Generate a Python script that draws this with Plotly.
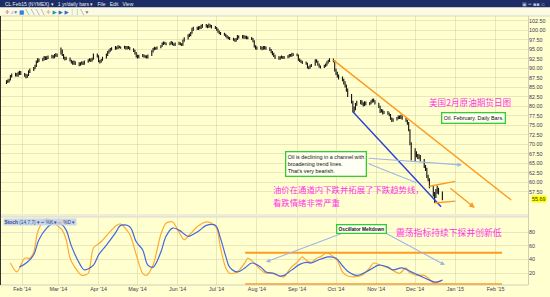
import plotly.graph_objects as go
import pandas as pd

# ---------------- data ----------------
dates = pd.bdate_range("2014-01-20", "2014-12-22")

close = [
    86.4, 86.7, 86.9, 88.0, 88.3,   88.5, 88.2, 88.7, 89.0, 88.6,
    88.2, 87.8, 88.1, 89.2, 89.6,   90.0, 90.6, 91.8, 92.3, 92.1,
    92.4, 92.9, 92.6, 92.8, 93.0,   93.2, 93.0, 93.4, 93.6, 93.3,
    95.0, 93.6, 92.8, 92.5, 92.7,   92.1, 91.6, 91.4, 91.8, 91.2,
    91.0, 91.3, 91.5, 91.2, 91.8,   92.1, 92.4, 92.0, 92.5, 93.6,
    93.4, 91.9, 91.7, 92.2, 92.8,   93.6, 94.3, 94.7, 95.0, 95.2,
    95.5, 95.4, 95.8, 95.6, 95.5,   95.7, 95.3, 95.6, 95.4, 95.2,
    94.6, 94.0, 93.2, 93.0, 93.3,   93.5, 93.1, 93.2, 92.9, 93.4,
    94.6, 95.1, 95.4, 95.2, 95.5,   95.8, 96.5, 96.8, 96.6, 96.4,
    96.6, 96.9, 96.4, 96.2, 96.5,   96.7, 96.4, 96.2, 97.3, 97.9,
    98.7, 98.9, 99.3, 100.3, 100.6, 100.5, 100.8, 100.7, 101.1, 101.3,
    101.2, 101.0, 101.4, 101.1, 100.9, 100.7, 100.2, 99.7, 99.3, 99.1,
    98.9, 98.5, 98.2, 98.0, 97.8,   97.6, 97.3, 97.7, 98.4, 98.2,
    98.5, 98.1, 98.3, 98.0, 98.1,   97.8, 97.2, 95.8, 95.4, 95.3,
    95.5, 95.2, 95.6, 95.3, 95.4,   94.9, 94.3, 93.8, 93.3, 92.9,
    92.6, 92.9, 93.1, 92.8, 93.0,   93.2, 93.5, 93.4, 93.8, 93.6,
    93.5, 92.3, 92.0, 91.7, 91.5,   91.3, 90.3, 90.1, 90.7, 90.9,
    92.1, 91.8, 91.0, 90.5, 90.4,   90.7, 91.0, 91.6, 92.0, 92.3,
    92.0, 89.5, 88.8, 88.0, 87.5,   87.0, 86.2, 85.5, 84.3, 83.0,
    81.2, 79.0, 79.5, 80.6, 81.0,   81.3, 80.8, 80.4, 81.0, 80.7,
    80.9, 81.3, 81.7, 81.4, 80.8,   79.9, 78.7, 78.9, 78.3, 78.5,
    78.1, 77.7, 76.8, 76.3, 76.6,   76.9, 77.3, 77.0, 77.4, 76.8,
    76.2, 75.6, 73.8, 70.2, 66.5,   67.8, 67.0, 66.6, 66.9, 65.9,
    64.2, 63.5, 61.6, 60.8, 58.9,   56.9, 56.2, 57.6, 58.1, 57.3,
    55.69,
]
open_ = [
    86.2, 86.5, 86.6, 87.0, 87.9,   88.2, 88.5, 88.1, 88.6, 89.1,
    88.5, 88.2, 87.9, 88.2, 89.1,   89.7, 90.1, 90.7, 91.7, 92.2,
    92.2, 92.3, 92.9, 92.5, 92.9,   93.0, 93.2, 92.9, 93.4, 93.7,
    93.9, 94.8, 93.5, 92.8, 92.5,   92.6, 92.0, 91.7, 91.3, 91.7,
    91.3, 91.0, 91.4, 91.5, 91.3,   91.8, 92.1, 92.3, 92.0, 92.6,
    93.5, 93.3, 91.9, 91.8, 92.3,   92.9, 93.6, 94.2, 94.6, 95.0,
    95.2, 95.5, 95.4, 95.8, 95.6,   95.5, 95.7, 95.3, 95.6, 95.4,
    95.1, 94.6, 94.0, 93.3, 93.0,   93.3, 93.4, 93.1, 93.2, 92.9,
    93.5, 94.5, 95.1, 95.4, 95.2,   95.5, 95.9, 96.5, 96.8, 96.6,
    96.4, 96.6, 96.9, 96.4, 96.2,   96.5, 96.7, 96.4, 96.3, 97.3,
    97.9, 98.6, 98.8, 99.4, 100.2,  100.6, 100.4, 100.9, 100.7, 101.0,
    101.3, 101.2, 101.0, 101.4, 101.1, 100.9, 100.7, 100.2, 99.7, 99.3,
    99.1, 98.9, 98.5, 98.2, 98.0,   97.8, 97.6, 97.3, 97.7, 98.4,
    98.2, 98.5, 98.1, 98.3, 98.0,   98.1, 97.8, 97.2, 95.8, 95.4,
    95.3, 95.5, 95.2, 95.6, 95.3,   95.4, 94.9, 94.3, 93.8, 93.3,
    92.9, 92.6, 92.9, 93.1, 92.8,   93.0, 93.2, 93.5, 93.4, 93.8,
    93.6, 93.5, 92.3, 92.0, 91.7,   91.5, 91.3, 90.3, 90.1, 90.7,
    90.9, 92.0, 91.8, 91.0, 90.5,   90.4, 90.7, 91.0, 91.6, 92.0,
    92.3, 92.0, 89.5, 88.8, 88.0,   87.5, 87.0, 86.2, 85.5, 84.3,
    83.0, 81.2, 79.0, 79.5, 80.6,   81.0, 81.3, 80.8, 80.4, 81.0,
    80.7, 80.9, 81.3, 81.7, 81.4,   80.8, 79.9, 78.7, 78.9, 78.3,
    78.5, 78.1, 77.7, 76.8, 76.3,   76.6, 76.9, 77.3, 77.0, 77.4,
    76.8, 76.2, 75.6, 73.8, 70.2,   66.5, 67.8, 67.0, 66.6, 66.9,
    65.9, 64.2, 63.5, 61.6, 60.8,   58.9, 56.9, 56.2, 57.6, 58.1,
    57.3,
]
high = [
    86.9, 87.1, 87.3, 88.3, 88.7,   88.9, 88.8, 89.1, 89.4, 89.3,
    88.8, 88.6, 88.5, 89.5, 90.0,   90.4, 91.0, 92.1, 92.7, 92.6,
    92.8, 93.3, 93.2, 93.2, 93.4,   93.6, 93.5, 93.8, 94.0, 93.9,
    95.5, 95.0, 93.8, 93.1, 93.1,   92.9, 92.3, 92.0, 92.1, 91.9,
    91.6, 91.6, 91.9, 91.8, 92.1,   92.4, 92.7, 92.6, 92.8, 93.9,
    93.9, 93.5, 92.2, 92.5, 93.1,   93.9, 94.6, 95.0, 95.4, 95.6,
    95.9, 95.8, 96.1, 96.0, 95.8,   96.0, 95.9, 95.9, 95.9, 95.7,
    95.3, 94.9, 94.3, 93.6, 93.6,   93.8, 93.7, 93.5, 93.5, 93.7,
    94.8, 95.4, 95.7, 95.6, 95.8,   96.1, 96.8, 97.1, 97.0, 96.8,
    96.9, 97.2, 97.0, 96.6, 96.8,   97.0, 96.9, 96.6, 97.6, 98.2,
    99.0, 99.2, 99.6, 100.7, 101.0, 101.0, 101.1, 101.2, 101.5, 101.7,
    101.7, 101.5, 101.8, 101.6, 101.4, 101.2, 100.9, 100.5, 100.0, 99.6,
    99.4, 99.1, 98.8, 98.5, 98.3,   98.1, 97.9, 98.0, 98.8, 98.7,
    98.8, 98.8, 98.6, 98.6, 98.4,   98.3, 98.0, 97.4, 96.1, 95.8,
    95.9, 95.7, 95.9, 95.9, 95.8,   95.6, 95.1, 94.6, 94.1, 93.6,
    93.2, 93.2, 93.4, 93.3, 93.3,   93.5, 93.8, 93.8, 94.1, 94.0,
    93.9, 93.7, 92.6, 92.3, 92.0,   91.8, 91.5, 90.6, 91.0, 91.2,
    92.4, 92.4, 92.0, 91.3, 90.8,   91.0, 91.3, 91.9, 92.3, 92.7,
    92.6, 92.2, 89.9, 89.1, 88.4,   87.9, 87.3, 86.6, 85.8, 84.7,
    83.3, 81.5, 80.0, 80.9, 81.5,   81.7, 81.6, 81.1, 81.4, 81.3,
    81.2, 81.6, 82.0, 82.1, 81.6,   81.0, 80.2, 79.3, 79.2, 78.8,
    78.8, 78.4, 78.0, 77.1, 76.9,   77.2, 77.6, 77.6, 77.8, 77.6,
    77.0, 76.5, 75.9, 74.0, 70.6,   69.0, 68.2, 67.5, 67.4, 67.2,
    66.2, 64.6, 63.9, 62.0, 61.1,   59.3, 57.5, 58.3, 59.2, 58.6,
    57.6,
]
low = [
    85.9, 86.2, 86.3, 86.8, 87.6,   87.9, 87.9, 87.8, 88.3, 88.3,
    87.8, 87.4, 87.5, 88.0, 88.8,   89.3, 89.8, 90.4, 91.4, 91.7,
    91.9, 92.1, 92.2, 92.2, 92.5,   92.7, 92.6, 92.7, 93.1, 93.0,
    93.7, 93.3, 92.4, 92.1, 92.2,   91.8, 91.3, 91.0, 91.0, 90.9,
    90.6, 90.7, 91.0, 90.9, 91.0,   91.5, 91.8, 91.7, 91.8, 92.3,
    92.9, 91.6, 91.3, 91.5, 92.0,   92.6, 93.3, 93.9, 94.4, 94.7,
    94.9, 95.0, 95.1, 95.3, 95.2,   95.2, 95.0, 95.0, 95.1, 94.8,
    94.3, 93.7, 92.9, 92.6, 92.7,   93.0, 92.8, 92.8, 92.6, 92.6,
    93.3, 94.2, 94.8, 94.9, 95.0,   95.3, 95.7, 96.2, 96.3, 96.1,
    96.1, 96.3, 96.1, 95.9, 95.9,   96.2, 96.1, 95.9, 96.0, 97.0,
    97.6, 98.3, 98.5, 99.1, 99.9,   100.1, 100.1, 100.3, 100.4, 100.7,
    100.8, 100.6, 100.7, 100.8, 100.5, 100.4, 99.9, 99.4, 99.0, 98.8,
    98.6, 98.2, 97.9, 97.7, 97.5,   97.3, 97.0, 97.0, 97.5, 97.9,
    97.9, 97.8, 97.8, 97.7, 97.7,   97.5, 96.9, 95.5, 95.0, 94.9,
    95.0, 94.8, 94.9, 95.0, 94.9,   94.6, 94.0, 93.5, 93.0, 92.5,
    92.3, 92.3, 92.6, 92.5, 92.5,   92.7, 92.9, 93.1, 93.1, 93.3,
    93.2, 92.0, 91.7, 91.4, 91.2,   91.0, 90.0, 89.8, 89.9, 90.4,
    90.7, 91.5, 90.7, 90.2, 90.0,   90.1, 90.4, 90.7, 91.3, 91.7,
    91.6, 89.2, 88.3, 87.6, 87.1,   86.6, 85.8, 85.0, 83.9, 82.5,
    80.8, 78.5, 78.4, 79.0, 80.2,   80.6, 80.4, 80.0, 80.1, 80.3,
    80.3, 80.6, 81.0, 81.1, 80.5,   79.6, 78.3, 78.4, 77.9, 78.0,
    77.8, 77.4, 76.5, 75.9, 76.0,   76.3, 76.6, 76.7, 76.7, 76.5,
    75.9, 75.2, 73.5, 69.8, 65.8,   65.5, 66.6, 66.2, 66.1, 65.5,
    63.8, 63.0, 61.2, 60.3, 58.5,   56.3, 54.6, 55.9, 57.0, 56.8,
    55.3,
]
last_price = 55.69

# Stochastic oscillator (14,7,7): %K (orange) and %D (blue)
k_dates = ["2014-01-23", "2014-01-28", "2014-02-03", "2014-02-07", "2014-02-10", "2014-02-13",
           "2014-02-17", "2014-02-20", "2014-02-25", "2014-02-28", "2014-03-04", "2014-03-07",
           "2014-03-10", "2014-03-14", "2014-03-19", "2014-03-24", "2014-03-28", "2014-04-03",
           "2014-04-09", "2014-04-15", "2014-04-18", "2014-04-25", "2014-04-30", "2014-05-05",
           "2014-05-08", "2014-05-13", "2014-05-19", "2014-05-23", "2014-05-28", "2014-06-02",
           "2014-06-06", "2014-06-10", "2014-06-16", "2014-06-23", "2014-06-27", "2014-07-01",
           "2014-07-04", "2014-07-08", "2014-07-11", "2014-07-17", "2014-07-23", "2014-07-25",
           "2014-07-30", "2014-08-04", "2014-08-08", "2014-08-13", "2014-08-18", "2014-08-22",
           "2014-08-27", "2014-09-01", "2014-09-05", "2014-09-08", "2014-09-12", "2014-09-16",
           "2014-09-19", "2014-09-24", "2014-09-29", "2014-10-02", "2014-10-06", "2014-10-10",
           "2014-10-16", "2014-10-21", "2014-10-27", "2014-10-30", "2014-11-04", "2014-11-10",
           "2014-11-13", "2014-11-19", "2014-11-24", "2014-11-26", "2014-12-02", "2014-12-08",
           "2014-12-11", "2014-12-15", "2014-12-17", "2014-12-22"]
k_vals = [35, 22, 42, 42, 51, 80,
          95, 99, 95, 90, 83, 69,
          42, 28, 17, 20, 57, 66,
          79, 90, 92, 77, 47, 20,
          17, 32, 77, 93, 95, 80,
          69, 76, 88, 95, 93, 86,
          57, 28, 20, 22, 36, 42,
          35, 25, 20, 20, 16, 15,
          28, 36, 44, 39, 36, 42,
          44, 50, 44, 39, 22, 16,
          15, 17, 28, 35, 32, 28,
          25, 20, 28, 22, 17, 17,
          13, 6, 6, 10]
d_dates = ["2014-01-30", "2014-02-05", "2014-02-10", "2014-02-14", "2014-02-20", "2014-02-25",
           "2014-03-03", "2014-03-07", "2014-03-11", "2014-03-18", "2014-03-21", "2014-03-28",
           "2014-04-01", "2014-04-07", "2014-04-14", "2014-04-18", "2014-04-25", "2014-04-30",
           "2014-05-05", "2014-05-09", "2014-05-13", "2014-05-19", "2014-05-23", "2014-05-28",
           "2014-06-02", "2014-06-09", "2014-06-12", "2014-06-18", "2014-06-23", "2014-06-30",
           "2014-07-04", "2014-07-08", "2014-07-11", "2014-07-17", "2014-07-23", "2014-07-28",
           "2014-08-04", "2014-08-08", "2014-08-14", "2014-08-19", "2014-08-22", "2014-08-28",
           "2014-09-03", "2014-09-08", "2014-09-12", "2014-09-17", "2014-09-25", "2014-10-01",
           "2014-10-06", "2014-10-10", "2014-10-17", "2014-10-27", "2014-11-03", "2014-11-10",
           "2014-11-14", "2014-11-21", "2014-11-28", "2014-12-04", "2014-12-12", "2014-12-17",
           "2014-12-22"]
d_vals = [29, 36, 47, 69, 86, 93,
          92, 83, 60, 32, 25, 32,
          47, 61, 79, 90, 88, 66,
          54, 32, 29, 51, 74, 86,
          83, 74, 76, 83, 90, 90,
          71, 45, 29, 22, 28, 35,
          29, 22, 20, 16, 17, 25,
          33, 36, 35, 39, 44, 42,
          31, 23, 17, 25, 32, 29,
          25, 28, 22, 17, 10, 7,
          10]

# tick labels
month_ticks = ["2014-02-01", "2014-03-01", "2014-04-01", "2014-05-01", "2014-06-01", "2014-07-01",
               "2014-08-01", "2014-09-01", "2014-10-01", "2014-11-01", "2014-12-01", "2015-01-01",
               "2015-02-01"]
month_labels = ["Feb '14", "Mar '14", "Apr '14", "May '14", "Jun '14", "Jul '14", "Aug '14",
                "Sep '14", "Oct '14", "Nov '14", "Dec '14", "Jan '15", "Feb '15"]
price_ticks = [57.5, 60.0, 62.5, 65.0, 67.5, 70.0, 72.5, 75.0, 77.5, 80.0, 82.5, 85.0, 87.5,
               90.0, 92.5, 95.0, 97.5, 100.0, 102.5]
osc_ticks = [20, 40, 60, 80]

# hand-drawn trend lines / arrows: (start, end) dates and values
upper_channel = (["2014-09-29", "2015-02-13"], [92.2, 55.4])
lower_channel = (["2014-10-14", "2014-12-21"], [78.6, 53.6])
short_upper = (["2014-12-12", "2015-01-01"], [59.0, 60.3])
short_lower = (["2014-12-16", "2015-01-01"], [54.6, 55.1])
orange_arrow = (["2014-12-27", "2015-01-16"], [58.8, 53.3])
blue_arrow1 = (["2014-10-25", "2015-01-06"], [66.4, 64.6])
blue_arrow2 = (["2014-10-25", "2014-12-02"], [65.1, 59.9])
osc_band = (["2014-07-23", "2015-02-06"], [50, 4])
osc_arrow1 = (["2014-10-08", "2014-08-08"], [80, 36.5])
osc_arrow2 = (["2014-11-07", "2014-12-24"], [80, 32])

# ---------------- figure ----------------
W, H = 550, 297
BG = "#FFFFD0"
GRID = "rgba(205,205,160,0.45)"
ORANGE = "#FF9A1E"
BLUE = "#2A3FD8"
LBLUE = "#9DB7E8"
MAGENTA = "#FF33E6"
GREEN = "#33CC33"
FONT = "Liberation Sans"
CJK = "Noto Sans CJK SC"

XR = ["2014-01-15", "2015-02-26"]
PLOT_R = 528                      # right edge of plotting area (px)
P_TOP, P_BOT = 16, 214            # price panel (px)
O_TOP, O_BOT = 217, 285           # oscillator panel (px)
P_RANGE = [51.7, 103.8]
O_RANGE = [2.9, 102.2]


def px(x):
    return x / W


def py(y):
    return 1 - y / H


def to_pixel(d, v, panel):
    t0, t1 = pd.Timestamp(XR[0]), pd.Timestamp(XR[1])
    xp = (pd.Timestamp(d) - t0) / (t1 - t0) * PLOT_R
    if panel == "price":
        top, bot, rng = P_TOP, P_BOT, P_RANGE
    else:
        top, bot, rng = O_TOP, O_BOT, O_RANGE
    yp = bot - (v - rng[0]) / (rng[1] - rng[0]) * (bot - top)
    return xp, yp


fig = go.Figure()
fig.add_trace(go.Ohlc(
    x=dates, open=open_, high=high, low=low, close=close,
    increasing=dict(line=dict(color="#111111", width=1.1)),
    decreasing=dict(line=dict(color="#111111", width=1.1)),
    tickwidth=0.4, xaxis="x", yaxis="y", hoverinfo="skip"))
fig.add_trace(go.Scatter(x=k_dates, y=k_vals, mode="lines",
                         line=dict(color="#FFAA33", width=1.2, shape="spline", smoothing=0.8),
                         xaxis="x2", yaxis="y2", hoverinfo="skip"))
fig.add_trace(go.Scatter(x=d_dates, y=d_vals, mode="lines",
                         line=dict(color="#4466DD", width=1.2, shape="spline", smoothing=1.0),
                         xaxis="x2", yaxis="y2", hoverinfo="skip"))

shapes = []


def seg(pts, color, width, xr="x", yr="y"):
    shapes.append(dict(type="line", xref=xr, yref=yr, x0=pts[0][0], x1=pts[0][1],
                       y0=pts[1][0], y1=pts[1][1], line=dict(color=color, width=width)))


seg(upper_channel, ORANGE, 1.4)
seg(lower_channel, BLUE, 1.4)
seg(short_upper, ORANGE, 1.4)
seg(short_lower, ORANGE, 1.4)
for v in osc_band[1]:
    shapes.append(dict(type="line", xref="x2", yref="y2", x0=osc_band[0][0], x1=osc_band[0][1],
                       y0=v, y1=v, line=dict(color=ORANGE, width=1.8)))

# chrome: title bar, toolbar, separators
shapes += [
    dict(type="rect", xref="paper", yref="paper", x0=0, x1=1, y0=py(7.5), y1=1,
         fillcolor="#1B2C66", line=dict(width=0), layer="above"),
    dict(type="rect", xref="paper", yref="paper", x0=0, x1=1, y0=py(16), y1=py(7.5),
         fillcolor="#FBFBE4", line=dict(width=0), layer="above"),
    dict(type="line", xref="paper", yref="paper", x0=0, x1=1, y0=py(16), y1=py(16),
         line=dict(color="#D8D8C0", width=1)),
    dict(type="rect", xref="paper", yref="paper", x0=0, x1=px(PLOT_R), y0=py(O_TOP), y1=py(P_BOT),
         fillcolor="#EDEDD8", line=dict(width=0)),
    dict(type="line", xref="paper", yref="paper", x0=0, x1=px(PLOT_R), y0=py(O_TOP), y1=py(O_TOP),
         line=dict(color="#DCDCC4", width=1)),
    dict(type="line", xref="paper", yref="paper", x0=px(PLOT_R + 0.5), x1=px(PLOT_R + 0.5),
         y0=py(O_BOT), y1=py(P_TOP), line=dict(color="#D0D0B8", width=1)),
    dict(type="line", xref="paper", yref="paper", x0=0, x1=px(PLOT_R), y0=py(O_BOT), y1=py(O_BOT),
         line=dict(color="#D0D0B8", width=1)),
    dict(type="line", xref="paper", yref="paper", x0=px(0.5), x1=px(0.5), y0=py(O_BOT),
         y1=py(P_TOP), line=dict(color="#333333", width=1)),
]

ann = []


def arrow(pts, color, width, panel, head=2):
    xr, yr = ("x", "y") if panel == "price" else ("x2", "y2")
    hx, hy = to_pixel(pts[0][1], pts[1][1], panel)
    tx, ty = to_pixel(pts[0][0], pts[1][0], panel)
    ann.append(dict(x=pts[0][1], y=pts[1][1], xref=xr, yref=yr, ax=tx - hx, ay=ty - hy,
                    showarrow=True, arrowhead=head, arrowsize=0.8, arrowwidth=width,
                    arrowcolor=color, text=""))


arrow(orange_arrow, ORANGE, 1.4, "price")
arrow(blue_arrow1, LBLUE, 1.1, "price")
arrow(blue_arrow2, LBLUE, 1.1, "price", head=0)
arrow(osc_arrow1, LBLUE, 1.1, "osc")
arrow(osc_arrow2, LBLUE, 1.1, "osc")


def label(x, y, text, font, xa="center", ya="middle", **kw):
    d = dict(x=px(x), y=py(y), xref="paper", yref="paper", xanchor=xa, yanchor=ya,
             showarrow=False, text=text, font=font)
    d.update(kw)
    ann.append(d)


small = dict(family=FONT, size=5.4, color="#111111")
label(3, 3.8, "CL Feb15 (NYMEX) ▾&nbsp;&nbsp;&nbsp;1 yr/daily bars ▾&nbsp;&nbsp;&nbsp;File"
      "&nbsp;&nbsp;&nbsp;Edit&nbsp;&nbsp;&nbsp;View",
      dict(family=FONT, size=5, color="#E8ECF8"), xa="left")
label(547, 3.8, "▣ ═ ▪▪ ▫", dict(family="DejaVu Sans", size=5, color="#B8C0DC"), xa="right")
label(3, 11.8,
      ("<span style='color:#E04040'>✛</span> <span style='color:#6070C0'>⌕▾</span> "
       "<span style='color:#3080E0'>■</span> <span style='color:#40A040'>╲</span> "
       "<span style='color:#7070A0'>╲</span> <span style='color:#7070A0'>╲</span> "
       "<span style='color:#7070A0'>╲</span> <span style='color:#E08030'>✛</span> "
       "<span style='color:#20A0A0'>▶</span> <span style='color:#3070D0'>▶</span> "
       "<span style='color:#3070D0'>▶</span> <span style='color:#A0A0A0'>┆</span> "
       "<span style='color:#40A040'>┆</span> <span style='color:#7070A0'>╲</span> ▾"),
      dict(family="DejaVu Sans", size=5.5, color="#777777"), xa="left")
# right axis current-price tag
ann.append(dict(x=px(530.5), y=last_price, xref="paper", yref="y", xanchor="left",
                yanchor="middle", showarrow=False, bgcolor="#FFFF00", borderpad=0,
                font=dict(family=FONT, size=5.4, color="#333333"), text=f"{last_price:.2f}"))
label(470, 102, "美国2月原油期货日图", dict(family=CJK, size=8.6, color=MAGENTA))
label(473.5, 118, "Oil. February. Daily Bars.", small, bgcolor="#FFFFF4", bordercolor=GREEN,
      borderwidth=1.3, borderpad=1.5)
label(285, 150.5, "Oil is declining in a channel with<br>broadening trend lines.<br>That's very bearish.",
      small, xa="left", ya="top", align="left", bgcolor="#FFFFF4", bordercolor=GREEN,
      borderwidth=1.3, borderpad=1.5)
label(271, 188.5, "油价在通道内下跌并拓展了下跌趋势线，", dict(family=CJK, size=8.4, color=MAGENTA),
      xa="left")
label(271, 201.5, "看跌情绪非常严重", dict(family=CJK, size=8.4, color=MAGENTA), xa="left")
label(361, 228.5, "<b>Oscillator Meltdown</b>", dict(family=FONT, size=4.8, color="#111111"),
      bgcolor="#FFFFF4", bordercolor=GREEN, borderwidth=1.3, borderpad=1.3)
label(449, 232, "震荡指标持续下探并创新低", dict(family=CJK, size=8.8, color=MAGENTA))
label(3, 221.5, ("<b>Stoch</b> (14,7,7) ▾ <span style='color:#4466DD'>━</span> %K ▾ "
                 "<span style='color:#FFAA33'>━</span> %D ▾"),
      dict(family=FONT, size=4.8, color="#334488"), xa="left",
      bgcolor="rgba(190,208,240,0.85)", borderpad=0.5)

tickfont = dict(family=FONT, size=5.4, color="#3A3A50")
fig.update_layout(
    width=W, height=H, margin=dict(l=0, r=0, t=0, b=0),
    paper_bgcolor=BG, plot_bgcolor=BG, showlegend=False,
    shapes=shapes, annotations=ann,
    xaxis=dict(domain=[0, px(PLOT_R)], range=XR, type="date", anchor="y",
               tickvals=month_ticks, showticklabels=False, ticks="",
               showgrid=True, gridcolor=GRID, gridwidth=0.6, zeroline=False,
               rangeslider=dict(visible=False)),
    xaxis2=dict(domain=[0, px(PLOT_R)], range=XR, type="date", anchor="y2", matches="x",
                tickvals=month_ticks, ticktext=month_labels, tickfont=tickfont, ticks="",
                showgrid=True, gridcolor=GRID, gridwidth=0.6, zeroline=False),
    yaxis=dict(domain=[py(P_BOT), py(P_TOP)], range=P_RANGE, side="right", anchor="x",
               tickvals=price_ticks, ticktext=[f"{v:.2f}" for v in price_ticks],
               tickfont=tickfont, ticks="", showgrid=True, gridcolor=GRID, gridwidth=0.6,
               zeroline=False),
    yaxis2=dict(domain=[py(O_BOT), py(O_TOP)], range=O_RANGE, side="right", anchor="x2",
                tickvals=osc_ticks, tickfont=tickfont, ticks="", showgrid=True,
                gridcolor=GRID, gridwidth=0.6, zeroline=False),
)

fig.write_html("out.html")
